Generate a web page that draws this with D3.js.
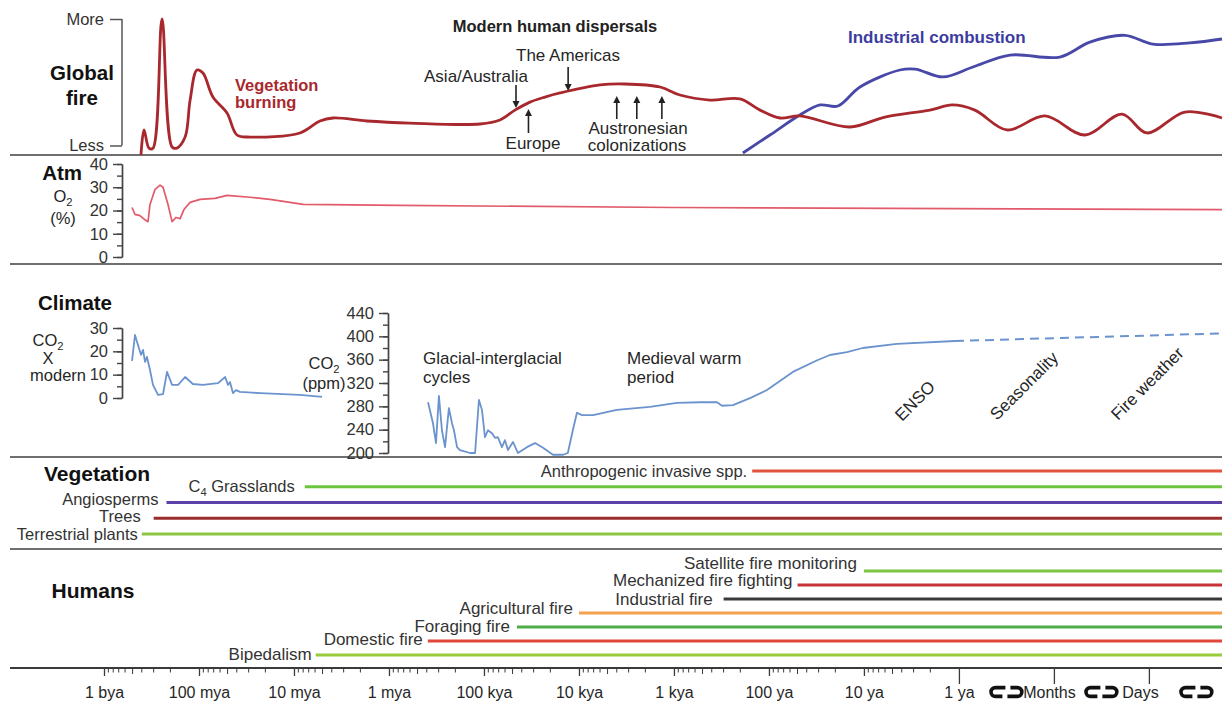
<!DOCTYPE html>
<html>
<head>
<meta charset="utf-8">
<script src="https://cdnjs.cloudflare.com/ajax/libs/d3/7.8.5/d3.min.js"></script>
<style>
  html, body { margin: 0; padding: 0; background: #fff; }
  svg { display: block; }
</style>
</head>
<body>
<svg id="chart" width="1229" height="709"></svg>
<script>
// ---------------- data (time in years before present) ----------------
const timeTicks = [1e9, 1e8, 1e7, 1e6, 1e5, 1e4, 1e3, 100, 10, 1, 0.1, 0.01];
const timeTickLabels = ["1 bya", "100 mya", "10 mya", "1 mya", "100 kya", "10 kya",
                        "1 kya", "100 ya", "10 ya", "1 ya", "Months", "Days"];

// Global fire: relative index (Less .. More)
const fireTickValues = [7, 100];
const fireTickLabels = ["Less", "More"];
const vegetationBurning = [
  [4.08e8, 0], [3.79e8, 18.4], [3.36e8, 5], [3.05e8, 5], [2.45e8, 100], [1.92e8, 5.9],
  [1.71e8, 5.1], [1.40e8, 13.2], [1.24e8, 40.4], [1.05e8, 62.5], [9.08e7, 60.3],
  [7.13e7, 42.6], [5.07e7, 30.9], [3.98e7, 14.7], [2.9e7, 13.2], [8.65e6, 16.2],
  [5.33e6, 25], [3.88e6, 27.2], [1.71e6, 25], [6.01e5, 23.5], [1.1e5, 22.8],
  [6.79e4, 25.7], [4.72e4, 33], [3.28e4, 38.9], [2.28e4, 42.6], [1.58e4, 45.6],
  [6.01e3, 51.5], [3.28e3, 52.2], [1.40e3, 50], [865, 44.1], [418, 40.4], [202, 41.2],
  [124, 33], [76.6, 27.2], [47.2, 28.7], [14, 20.6], [6.01, 27.9], [2.02, 33],
  [1.18, 36.8], [0.679, 33], [0.312, 18.4], [0.124, 28.7], [0.0472, 14.7],
  [0.0192, 30.1], [0.0105, 16.2], [0.00418, 31.6], [0.0017, 27.2]
];
const industrialCombustion = [
  [188, 1.5], [97.6, 14.7], [47.2, 29.4], [29, 36.8], [18.8, 36], [11, 50], [4.18, 62.5],
  [2.9, 63.2], [1.47, 57.4], [0.712, 64.7], [0.29, 73.5], [0.0865, 72], [0.0418, 83],
  [0.0179, 88], [0.00908, 81.6], [0.0037, 82.4], [0.0017, 85.3]
];

// Atmospheric O2 (%)
const o2TickValues = [0, 10, 20, 30, 40];
const o2Percent = [
  [5.07e8, 21.3], [4.72e8, 18.3], [4.18e8, 17.8], [3.70e8, 16], [3.44e8, 15.2],
  [3.28e8, 22.6], [2.9e8, 29.1], [2.57e8, 30.9], [2.39e8, 30], [2.12e8, 22.6],
  [1.92e8, 15.2], [1.75e8, 17], [1.58e8, 16.5], [1.44e8, 20.4], [1.24e8, 23.5],
  [9.76e7, 24.8], [6.79e7, 25.2], [5.07e7, 26.5], [2.9e7, 25.7], [1.79e7, 24.8],
  [1.1e7, 23.5], [8.04e6, 22.6], [7.66e5, 22.2], [1e3, 21.3], [0.0017, 20.4]
];

// Climate: CO2 relative to modern, and CO2 concentration (ppm)
const co2xTickValues = [0, 10, 20, 30];
const co2TimesModern = [
  [5.07e8, 15.9], [4.72e8, 27], [4.39e8, 22.7], [4.08e8, 18.5], [3.88e8, 20.6],
  [3.70e8, 15.5], [3.53e8, 17.6], [3.28e8, 12], [3.05e8, 5.6], [2.70e8, 1.3],
  [2.39e8, 1.7], [2.17e8, 11.2], [1.92e8, 5.6], [1.66e8, 5.6], [1.40e8, 9],
  [1.16e8, 6], [9.1e7, 5.6], [6.3e7, 6.4], [5.3e7, 9], [4.95e7, 5.6], [4.72e7, 6.9],
  [4.39e7, 2.1], [4.08e7, 3.4], [3.70e7, 2.6], [2.28e7, 2.1], [8.65e6, 1.3], [5.07e6, 0.5]
];
const ppmTickValues = [200, 240, 280, 320, 360, 400, 440];
const co2Ppm = [
  [3.88e5, 287], [3.44e5, 251], [3.2e5, 217], [2.98e5, 298], [2.77e5, 239], [2.57e5, 210],
  [2.34e5, 277], [2.17e5, 251], [2.07e5, 239], [1.92e5, 210], [1.79e5, 205], [1.40e5, 200],
  [1.24e5, 200], [1.13e5, 291], [1.05e5, 274], [9.76e4, 227], [9.08e4, 239], [8.24e4, 234],
  [7.66e4, 226], [7.13e4, 227], [6.47e4, 210], [6.01e4, 222], [5.59e4, 205], [4.95e4, 219],
  [4.39e4, 200], [3.53e4, 210], [2.9e4, 217], [2.39e4, 209], [1.88e4, 197], [1.47e4, 197],
  [1.31e4, 200], [1.16e4, 239], [1.05e4, 269], [9.3e3, 265], [7.1e3, 265], [4e3, 274],
  [1.79e3, 279], [930, 286], [532, 287], [352, 287], [312, 281], [239, 282], [158, 294],
  [105, 308], [56, 339], [31, 359], [22.8, 368], [15.1, 373], [10.3, 380], [4.5, 387],
  [1.1, 392]
];
const co2PpmOutlook = [[1.1, 392], [0.0017, 405]];
const climateDrivers = ["ENSO", "Seasonality", "Fire weather"];

// Vegetation: first appearance (years ago), continuing to present
const vegetationNames = ["Anthropogenic invasive spp.", "C{4} Grasslands", "Angiosperms", "Trees", "Terrestrial plants"];
const vegetationStart = [150, 7.7e6, 2.2e8, 3e8, 4e8];

// Humans: first appearance (years ago), continuing to present
const humanNames = ["Satellite fire monitoring", "Mechanized fire fighting", "Industrial fire",
                    "Agricultural fire", "Foraging fire", "Domestic fire", "Bipedalism"];
const humanStart = [10, 50, 300, 1e4, 4.5e4, 3.9e5, 5.9e6];

// Modern human dispersals (years ago)
const dispersalYears = [4.6e4, 1.3e4, 3.4e4, 4e3, 2.46e3, 1.34e3];

// ---------------- styles & layout ----------------
const FONT = '"Liberation Sans", Arial, Helvetica, sans-serif';
const TXT = "#262626";
const vegetationColors = ["#e2553c", "#6cc53f", "#5b42a8", "#9a2c2c", "#8cc643"];
const humanColors = ["#7cc443", "#c8323a", "#3a3a3a", "#f4a24e", "#4fae4a", "#e0473a", "#9acb3d"];
// label placement relative to each row's line: [gap to line start, vertical shift]
const vegetationLabelPos = [[5, 0], [10, -1], [8, -4], [13, -2], [4, 0]];
const humanLabelPos = [[7, -8], [5, -5], [11, 0], [6, -5], [7, -1], [5, -2], [4, -1]];

// ---------------- scales ----------------
const x = d3.scaleLog().domain([1e9, 0.0017]).range([104, 1222]);
const xEnd = x.range()[1];
const yFire = d3.scaleLinear().domain([0, 100]).range([155, 19]);
const yO2 = d3.scaleLinear().domain([0, 40]).range([257, 164]);
const yCo2x = d3.scaleLinear().domain([0, 30]).range([398, 328]);
const yPpm = d3.scaleLinear().domain([200, 440]).range([453, 313]);

const svg = d3.select("#chart").attr("font-family", FONT);

// text helper: "{n}" renders as subscript
function label(g, px, py, str, opts = {}) {
  const size = opts.size || 17;
  const t = g.append("text")
    .attr("x", px).attr("y", py)
    .attr("font-size", size)
    .attr("font-weight", opts.bold ? "bold" : null)
    .attr("fill", opts.color || TXT)
    .attr("text-anchor", opts.anchor || "start");
  if (opts.transform) t.attr("transform", opts.transform);
  const parts = str.split(/(\{[^}]*\})/).filter(p => p.length);
  let shifted = false;
  parts.forEach(p => {
    if (p[0] === "{") {
      t.append("tspan").attr("dy", 4).attr("font-size", size * 0.68).text(p.slice(1, -1));
      shifted = true;
    } else {
      const s = t.append("tspan").text(p);
      if (shifted) { s.attr("dy", -4); shifted = false; }
    }
  });
  return t;
}

// ---------------- panel separators ----------------
const separators = [155, 264, 457, 549];
svg.append("g").selectAll("line").data(separators).join("line")
  .attr("x1", 10).attr("x2", xEnd).attr("y1", d => d).attr("y2", d => d)
  .attr("stroke", "#6f6f6f").attr("stroke-width", 2);

// ---------------- time axis ----------------
const axisG = svg.append("g").attr("transform", "translate(0,668)");
axisG.append("line").attr("x1", 10).attr("x2", xEnd).attr("stroke", "#3a3a3a").attr("stroke-width", 2);
// minor ticks at 2..9 x 10^k between 1 ya and 1 bya
const minorTimes = d3.range(0, 9).flatMap(k => d3.range(2, 10).map(m => m * Math.pow(10, k)));
axisG.append("g").selectAll("line").data(minorTimes).join("line")
  .attr("x1", d => x(d)).attr("x2", d => x(d)).attr("y1", 0).attr("y2", d => (String(d)[0] === "5" ? 6 : 4.5))
  .attr("stroke", "#3a3a3a").attr("stroke-width", 1);
const majorAxis = axisG.append("g")
  .call(d3.axisBottom(x).tickValues(timeTicks).tickFormat((d, i) => timeTickLabels[i])
    .tickSize(8).tickPadding(11));
majorAxis.attr("font-size", 16).attr("font-family", FONT);
majorAxis.select(".domain").remove();
majorAxis.selectAll(".tick line").attr("stroke", "#3a3a3a").attr("stroke-width", 1.3)
  .attr("y2", d => d <= 1 ? 16 : 8);
majorAxis.selectAll(".tick text").attr("fill", TXT)
  .attr("dx", d => d === 0.1 ? -5 : d === 0.01 ? -9 : 0);

// break marks between the sub-annual labels
const step = x(0.01) - x(0.1);
const breakCenters = [x(1) + step / 2, x(0.1) + step / 2, x(0.01) + step / 2];
const breakG = svg.append("g").attr("fill", "none").attr("stroke", "#111").attr("stroke-width", 3.6);
breakCenters.forEach(cx => {
  const cy = 692, r = 4.4, w = 11;
  breakG.append("path").attr("d",
    `M${cx - 1},${cy - r} H${cx - w} A${r},${r} 0 0 0 ${cx - w},${cy + r} H${cx - 4}`);
  breakG.append("path").attr("d",
    `M${cx + 1},${cy + r} H${cx + w} A${r},${r} 0 0 0 ${cx + w},${cy - r} H${cx + 4}`);
});

// ---------------- Global fire ----------------
const fireG = svg.append("g");
label(fireG, 82, 80, "Global", { size: 20.5, bold: true, anchor: "middle", color: "#111" });
label(fireG, 82, 105, "fire", { size: 20.5, bold: true, anchor: "middle", color: "#111" });
const fireAxis = fireG.append("g").attr("transform", "translate(122,0)")
  .call(d3.axisLeft(yFire).tickValues(fireTickValues).tickFormat((d, i) => fireTickLabels[i])
    .tickSize(12).tickSizeOuter(0).tickPadding(6));
fireAxis.attr("font-size", 16.5).attr("font-family", FONT);
fireAxis.select(".domain").remove();
fireAxis.append("line").attr("y1", yFire(fireTickValues[0])).attr("y2", yFire(fireTickValues[1]))
  .attr("stroke", "#555").attr("stroke-width", 1.5);
fireAxis.selectAll(".tick line").attr("stroke", "#555").attr("stroke-width", 1.5);
fireAxis.selectAll(".tick text").attr("fill", "#333");

const smooth = d3.line().x(d => x(d[0])).curve(d3.curveCatmullRom.alpha(0.5));
fireG.append("path").datum(industrialCombustion)
  .attr("d", smooth.y(d => yFire(d[1])))
  .attr("fill", "none").attr("stroke", "#4848a8").attr("stroke-width", 2.8).attr("stroke-linejoin", "round");
fireG.append("path").datum(vegetationBurning)
  .attr("d", smooth.y(d => yFire(d[1])))
  .attr("fill", "none").attr("stroke", "#a8282d").attr("stroke-width", 2.8).attr("stroke-linejoin", "round");

label(fireG, 235, 91, "Vegetation", { size: 16.5, bold: true, color: "#a8282d" });
label(fireG, 235, 108, "burning", { size: 16.5, bold: true, color: "#a8282d" });
label(fireG, 848, 43, "Industrial combustion", { size: 17, bold: true, color: "#3c3ca0" });

// modern human dispersals
label(fireG, 555, 32, "Modern human dispersals", { size: 16.5, bold: true, anchor: "middle", color: "#222" });
label(fireG, 568, 61, "The Americas", { anchor: "middle" });
label(fireG, 476, 82, "Asia/Australia", { anchor: "middle" });
label(fireG, 533, 149, "Europe", { anchor: "middle" });
label(fireG, 638, 134, "Austronesian", { anchor: "middle" });
label(fireG, 637, 151, "colonizations", { anchor: "middle" });

// arrow geometry: [tail y, tip y] for each dispersal
const arrowSpans = [[85, 108], [67, 91], [133, 109], [119, 96], [119, 96], [119, 96]];
const arrowG = fireG.append("g");
dispersalYears.forEach((yr, i) => {
  const ax = x(yr), [y0, y1] = arrowSpans[i];
  const dir = Math.sign(y1 - y0);
  arrowG.append("line").attr("x1", ax).attr("x2", ax).attr("y1", y0).attr("y2", y1 - dir * 6)
    .attr("stroke", "#222").attr("stroke-width", 1.6);
  arrowG.append("path")
    .attr("d", `M${ax - 3.5},${y1 - dir * 7} L${ax + 3.5},${y1 - dir * 7} L${ax},${y1} Z`)
    .attr("fill", "#222");
});

// ---------------- Atmosphere ----------------
const atmG = svg.append("g");
label(atmG, 82, 180, "Atm", { size: 20.5, bold: true, anchor: "end", color: "#111" });
label(atmG, 63, 202, "O{2}", { anchor: "middle", size: 16.5 });
label(atmG, 63, 224, "(%)", { anchor: "middle", size: 16.5 });
function yAxisWithMinor(g, scale, major, minorStep, px) {
  const [lo, hi] = scale.domain();
  const minor = d3.range(lo, hi + 1e-9, minorStep);
  g.append("g").attr("transform", `translate(${px},0)`)
    .call(d3.axisLeft(scale).tickValues(minor).tickFormat("").tickSize(5).tickSizeOuter(0))
    .call(s => s.selectAll("line,path").attr("stroke", "#444").attr("stroke-width", 1.4));
  const a = g.append("g").attr("transform", `translate(${px},0)`)
    .call(d3.axisLeft(scale).tickValues(major).tickSize(9).tickSizeOuter(0).tickPadding(5));
  a.attr("font-size", 16.5).attr("font-family", FONT);
  a.selectAll("line,path").attr("stroke", "#444").attr("stroke-width", 1.4);
  a.selectAll(".tick text").attr("fill", "#333");
}
yAxisWithMinor(atmG, yO2, o2TickValues, 5, 122);
atmG.append("path").datum(o2Percent)
  .attr("d", d3.line().x(d => x(d[0])).y(d => yO2(d[1])))
  .attr("fill", "none").attr("stroke", "#e25b6b").attr("stroke-width", 1.7).attr("stroke-linejoin", "round");

// ---------------- Climate ----------------
const climG = svg.append("g");
label(climG, 75, 310, "Climate", { size: 20.5, bold: true, anchor: "middle", color: "#111" });
label(climG, 48, 346, "CO{2}", { anchor: "middle", size: 16.5 });
label(climG, 48, 364, "X", { anchor: "middle", size: 16.5 });
label(climG, 86, 381, "modern", { anchor: "end", size: 16.5 });
yAxisWithMinor(climG, yCo2x, co2xTickValues, 5, 122);
label(climG, 324, 369, "CO{2}", { anchor: "middle", size: 16.5 });
label(climG, 324, 389, "(ppm)", { anchor: "middle", size: 16.5 });
yAxisWithMinor(climG, yPpm, ppmTickValues, 20, 388);

const climateLine = d3.line().x(d => x(d[0]));
climG.append("path").datum(co2TimesModern)
  .attr("d", climateLine.y(d => yCo2x(d[1])))
  .attr("fill", "none").attr("stroke", "#6b93cd").attr("stroke-width", 1.8).attr("stroke-linejoin", "round");
climG.append("path").datum(co2Ppm)
  .attr("d", climateLine.y(d => yPpm(d[1])))
  .attr("fill", "none").attr("stroke", "#6b93cd").attr("stroke-width", 1.8).attr("stroke-linejoin", "round");
climG.append("path").datum(co2PpmOutlook)
  .attr("d", climateLine.y(d => yPpm(d[1])))
  .attr("fill", "none").attr("stroke", "#6b93cd").attr("stroke-width", 2).attr("stroke-dasharray", "9,6");

label(climG, 423, 364, "Glacial-interglacial");
label(climG, 423, 383, "cycles");
label(climG, 627, 364, "Medieval warm");
label(climG, 627, 383, "period");
const driverAnchors = [[902, 422], [997, 421], [1118, 421]];
climateDrivers.forEach((name, i) => {
  const [ax, ay] = driverAnchors[i];
  label(climG, 0, 0, name, { transform: `translate(${ax},${ay}) rotate(-45)` });
});

// ---------------- Vegetation ----------------
const vegG = svg.append("g");
label(vegG, 97, 481, "Vegetation", { size: 21, bold: true, anchor: "middle", color: "#111" });
const yVeg = d3.scalePoint().domain(vegetationNames).range([471, 534]);
vegG.selectAll("line.row").data(vegetationNames).join("line").attr("class", "row")
  .attr("x1", (d, i) => x(vegetationStart[i])).attr("x2", xEnd)
  .attr("y1", d => yVeg(d)).attr("y2", d => yVeg(d))
  .attr("stroke", (d, i) => vegetationColors[i]).attr("stroke-width", 3);
vegetationNames.forEach((name, i) => {
  const [gap, dy] = vegetationLabelPos[i];
  label(vegG, x(vegetationStart[i]) - gap, yVeg(name) + 6 + dy, name,
    { anchor: "end", color: "#333", size: 16.5 });
});

// ---------------- Humans ----------------
const humG = svg.append("g");
label(humG, 93, 598, "Humans", { size: 21, bold: true, anchor: "middle", color: "#111" });
const yHum = d3.scalePoint().domain(humanNames).range([571, 655]);
humG.selectAll("line.row").data(humanNames).join("line").attr("class", "row")
  .attr("x1", (d, i) => x(humanStart[i])).attr("x2", xEnd)
  .attr("y1", d => yHum(d)).attr("y2", d => yHum(d))
  .attr("stroke", (d, i) => humanColors[i]).attr("stroke-width", 3);
humanNames.forEach((name, i) => {
  const [gap, dy] = humanLabelPos[i];
  label(humG, x(humanStart[i]) - gap, yHum(name) + 6 + dy, name, { anchor: "end", color: "#333" });
});
</script>
</body>
</html>
